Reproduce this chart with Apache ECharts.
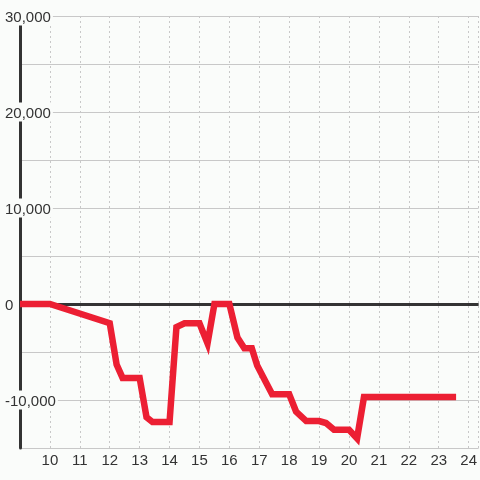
<!DOCTYPE html>
<html>
<head>
<meta charset="utf-8">
<script src="https://cdn.jsdelivr.net/npm/echarts@6/dist/echarts.min.js"></script>
<style>
  html, body { margin: 0; padding: 0; background: #fafcfa; }
  #chart { width: 480px; height: 480px; }
</style>
</head>
<body>
<div id="chart"></div>
<script>
// hour of day
const times = [9, 10, 12, 12.23, 12.43, 13, 13.23, 13.43, 14, 14.23, 14.5, 15, 15.27, 15.5, 16,
  16.27, 16.5, 16.75, 16.93, 17.43, 18, 18.23, 18.57, 19, 19.23, 19.5, 20, 20.27, 20.5, 23.58]
const values = [0, 0, -2000, -6300, -7700, -7700, -11800, -12300, -12300, -2400, -2000, -2000, -4100, 0, 0,
  -3500, -4600, -4600, -6400, -9400, -9400, -11200, -12200, -12200, -12400, -13100, -13100, -14000, -9700, -9700]
const yLabels = [-10000, 0, 10000, 20000, 30000]

const chart = echarts.init(document.getElementById('chart'))

const fmtNum = v => (v < 0 ? '-' : '') + Math.abs(v).toLocaleString('en-US')

const option = {
  backgroundColor: '#fafcfa',
  animation: false,
  textStyle: { fontFamily: 'Liberation Sans, Arial, sans-serif' },
  grid: { left: 20, right: 0, top: 16, bottom: 32 },
  xAxis: {
    type: 'value',
    min: 9,
    max: 24.333,
    interval: 1,
    axisLine: { show: false, onZero: false },
    axisTick: { show: false },
    axisLabel: {
      color: '#333',
      fontSize: 15,
      margin: 5,
      showMinLabel: false,
      showMaxLabel: false,
      formatter: v => (Number.isInteger(v) && v > 9 ? String(v) : '')
    },
    splitLine: {
      show: true,
      lineStyle: { color: '#c8c8c8', type: [2, 3], width: 1 }
    }
  },
  yAxis: {
    type: 'value',
    min: -15000,
    max: 30000,
    interval: 5000,
    axisLine: { show: true, lineStyle: { color: '#333', width: 3 } },
    axisTick: { show: false },
    axisLabel: {
      align: 'left',
      margin: 17,
      formatter: v => (yLabels.includes(v) ? '{b|' + fmtNum(v) + '}' : ''),
      rich: {
        b: {
          color: '#333',
          fontSize: 15,
          lineHeight: 13,
          backgroundColor: '#fafcfa',
          padding: [4, 2, 0, 2]
        }
      }
    },
    splitLine: { show: true, lineStyle: { color: '#c8c8c8', width: 1 } }
  },
  series: [
    {
      type: 'line',
      data: times.map((t, i) => [t, values[i]]),
      showSymbol: false,
      lineStyle: { color: '#ec1f33', width: 6.5, cap: 'butt', join: 'miter' },
      z: 5,
      markLine: {
        z: 1,
        silent: true,
        symbol: 'none',
        label: { show: false },
        lineStyle: { color: '#333', width: 3, type: 'solid' },
        data: [{ yAxis: 0 }]
      }
    }
  ]
}

chart.setOption(option)
</script>
</body>
</html>
